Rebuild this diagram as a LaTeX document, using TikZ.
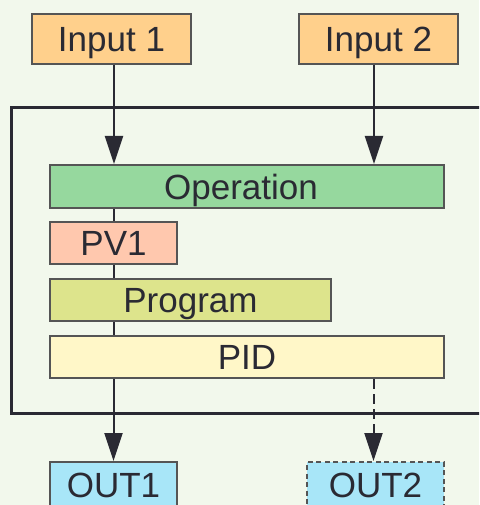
\documentclass[tikz,border=0pt]{standalone}
\usepackage{fontspec}
\setmainfont{Liberation Sans}
\usetikzlibrary{arrows.meta}
\definecolor{bg}{HTML}{F2F8EC}
\definecolor{inc}{HTML}{FFD08C}
\definecolor{opc}{HTML}{96D89E}
\definecolor{pvc}{HTML}{FFC8AE}
\definecolor{prc}{HTML}{DDE48C}
\definecolor{pidc}{HTML}{FFF7C8}
\definecolor{outc}{HTML}{A8E6F8}
\definecolor{edge}{HTML}{555555}
\definecolor{ink}{HTML}{2A2A33}
\tikzset{
  box/.style={draw=edge, line width=2pt, rectangle, inner sep=0pt,
    text height=25pt, text depth=0pt, text=ink,
    font=\fontsize{35}{40}\selectfont},
  conn/.style={draw=ink, line width=2pt},
  arr/.style={conn, -{Triangle[width=18pt,length=28pt]}},
  dashline/.style={dash pattern=on 10pt off 5pt},
  dashbox/.style={dash pattern=on 5pt off 3.5pt},
}
\begin{document}
\begin{tikzpicture}[x=1pt,y=-1pt]
\useasboundingbox (0,0) rectangle (479,505);
\clip (0,0) rectangle (479,505);
\fill[bg] (0,0) rectangle (479,505);
\draw[draw=ink, line width=3pt] (11,108) rectangle (490,413);
\node[box, fill=inc, minimum width=159pt, minimum height=50pt] (in1) at (111.5,39) {Input 1};
\node[box, fill=inc, minimum width=159pt, minimum height=50pt] (in2) at (378.5,39) {Input 2};
\node[box, fill=opc, minimum width=394pt, minimum height=43pt] (op) at (247,186.5) {\hspace*{-12pt}Operation};
\node[box, fill=pvc, minimum width=127pt, minimum height=42pt] (pv) at (113.5,243) {PV1};
\node[box, fill=prc, minimum width=281pt, minimum height=42pt] (pr) at (190.5,300) {Program};
\node[box, fill=pidc, minimum width=394pt, minimum height=42pt] (pid) at (247,357) {PID};
\node[box, fill=outc, minimum width=127pt, minimum height=46pt] (o1) at (113.5,485) {OUT1};
\node[box, fill=outc, dashbox, minimum width=137pt, minimum height=46pt] (o2) at (375.5,485) {OUT2};
\draw[arr] ([xshift=2.5pt]in1.south) -- ([xshift=2.5pt]in1.south |- op.north);
\draw[arr] ([xshift=-4.5pt]in2.south) -- ([xshift=-4.5pt]in2.south |- op.north);
\draw[conn] (op.south -| pv.north) -- (pv.north);
\draw[conn] (pv.south) -- (pv.south |- pr.north);
\draw[conn] (pr.south -| pv.south) -- (pid.north -| pv.south);
\draw[arr] (pid.south -| o1.north) -- (o1.north);
\draw[arr, dashline] ([xshift=-2pt]pid.south -| o2.north) -- ([xshift=-2pt]o2.north);
\end{tikzpicture}
\end{document}
